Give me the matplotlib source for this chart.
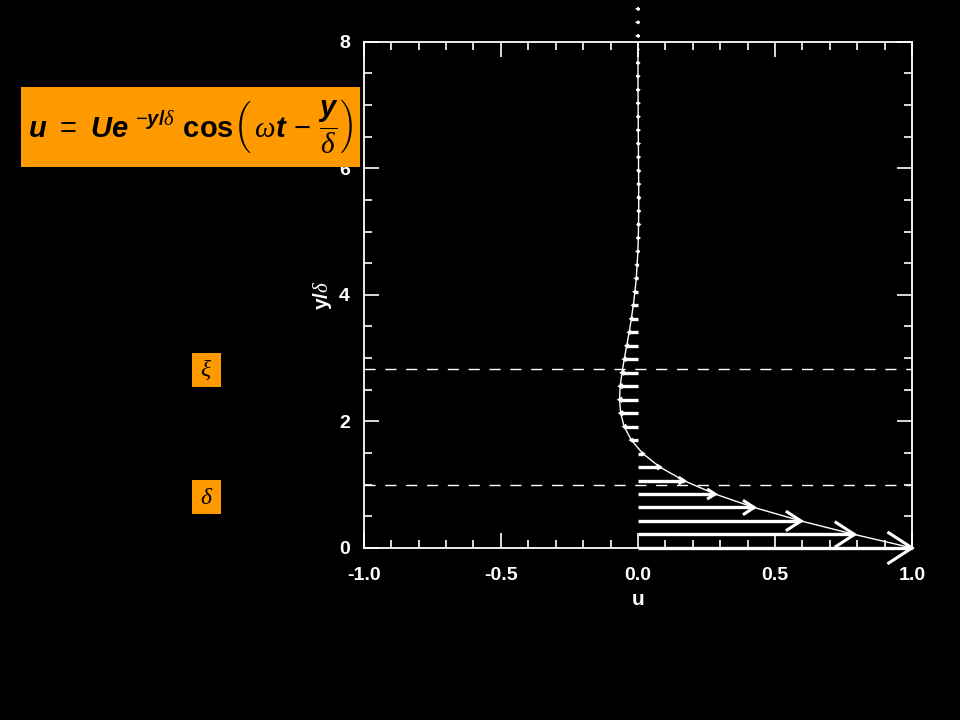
import matplotlib
matplotlib.use('Agg')
import matplotlib.pyplot as plt
from matplotlib.patches import Rectangle
import numpy as np

plt.rcParams['mathtext.fontset'] = 'custom'
plt.rcParams['mathtext.rm'] = 'Liberation Sans:bold'
plt.rcParams['mathtext.it'] = 'Liberation Sans:bold:italic'
plt.rcParams['mathtext.bf'] = 'Liberation Sans:bold'
plt.rcParams['mathtext.sf'] = 'Liberation Sans'
plt.rcParams['mathtext.cal'] = 'Liberation Serif:italic'

# velocity profile: arrow heights (y/delta) and tips (u)
y_arrow = [0.000, 0.213, 0.426, 0.639, 0.852, 1.065, 1.278, 1.491, 1.704, 1.917,
           2.130, 2.343, 2.556, 2.769, 2.982, 3.195, 3.408, 3.621, 3.834, 4.047,
           4.260, 4.473, 4.686, 4.899, 5.112, 5.325, 5.538, 5.751, 5.964, 6.177,
           6.390, 6.603, 6.816, 7.029, 7.242, 7.455, 7.668, 7.881, 8.094, 8.307, 8.520]
u_arrow = [1.000, 0.790, 0.595, 0.424, 0.281, 0.167, 0.080, 0.018, -0.024, -0.050,
           -0.063, -0.067, -0.065, -0.058, -0.050, -0.041, -0.032, -0.024, -0.017, -0.011,
           -0.006, -0.003, -0.0002, 0.0014, 0.0023, 0.0028, 0.0029, 0.0027, 0.0024, 0.0021,
           0.0017, 0.0013, 0.0010, 0.0007, 0.0004, 0.0002, 0.0001, 0.0, -0.0001, -0.0001, -0.0001]
y_dashed = [1.0, 2.83]

fig = plt.figure(figsize=(9.6, 7.2), dpi=100, facecolor='black')
ax = fig.add_axes([0.379, 0.239, 0.571, 0.703], facecolor='black')
ax.set_xlim(-1, 1)
ax.set_ylim(0, 8)

# curve through the arrow tips
ax.plot(u_arrow, y_arrow, color='white', lw=1.0)

# arrows, head size ~ fraction of arrow length
bb = ax.get_position()
px_x = bb.width * fig.get_figwidth() * fig.dpi / 2.0
px_y = bb.height * fig.get_figheight() * fig.dpi / 8.0
for u, y in zip(u_arrow, y_arrow):
    ax.plot([0, u], [y, y], color='white', lw=2.4, clip_on=False, solid_capstyle='butt')
    hl = 0.085 * u
    hw = 0.65 * abs(hl) * px_x / px_y
    ax.plot([u - hl, u, u - hl], [y + hw, y, y - hw], color='white', lw=2.2,
            clip_on=False, solid_joinstyle='miter')
    ax.plot([u], [y], 'o', color='white', ms=1.6, mew=0, clip_on=False)

for yd in y_dashed:
    ax.axhline(yd, color='white', lw=1.0, ls=(0, (8, 7)))

for s in ax.spines.values():
    s.set_color('white')
    s.set_linewidth(1.3)
ax.set_xticks([-1.0, -0.5, 0.0, 0.5, 1.0])
ax.set_xticklabels(['-1.0', '-0.5', '0.0', '0.5', '1.0'])
ax.set_xticks(np.arange(-1, 1.01, 0.1), minor=True)
ax.set_yticks([0, 2, 4, 6, 8])
ax.set_yticks(np.arange(0, 8.01, 0.5), minor=True)
ax.tick_params(which='both', direction='in', colors='white', top=True, right=True,
               width=1.2, labelsize=14)
ax.tick_params(which='major', length=11)
ax.tick_params(axis='x', which='major', pad=14)
ax.tick_params(axis='y', which='major', pad=10)
ax.tick_params(which='minor', length=6)
for lab in ax.get_xticklabels() + ax.get_yticklabels():
    lab.set_fontweight('bold')
    lab.set_family('Liberation Sans')
ax.set_xlabel('u', color='white', fontsize=15, fontweight='bold', family='Liberation Sans', labelpad=4)
ax.set_ylabel(r'$\mathrm{y/}\mathcal{\delta}$', color='white', fontsize=15, labelpad=4)

# formula box
fig.add_artist(Rectangle((21 / 960, 1 - 167 / 720), 339 / 960, 80 / 720,
                         transform=fig.transFigure, facecolor='#ff9900', edgecolor='none'))
fig.text(190 / 960, 1 - 127 / 720,
         r'$u\ \mathsf{=}\ Ue^{\ \mathsf{-}y/\mathcal{\delta}}\ \mathrm{cos}\left(\,\mathcal{\omega}t\ \mathsf{-}\ \dfrac{y}{\mathcal{\delta}}\right)$',
         fontsize=21, color='black', ha='center', va='center')

# small symbol boxes
for ch, yc in [(r'\xi', 370), (r'\delta', 497)]:
    fig.add_artist(Rectangle((192 / 960, 1 - (yc + 17) / 720), 29 / 960, 34 / 720,
                             transform=fig.transFigure, facecolor='#ff9900', edgecolor='none'))
    fig.text(206.5 / 960, 1 - yc / 720, r'$\mathcal{' + ch + '}$', fontsize=17,
             color='black', ha='center', va='center')

fig.savefig('out.png', dpi=100, facecolor='black')
